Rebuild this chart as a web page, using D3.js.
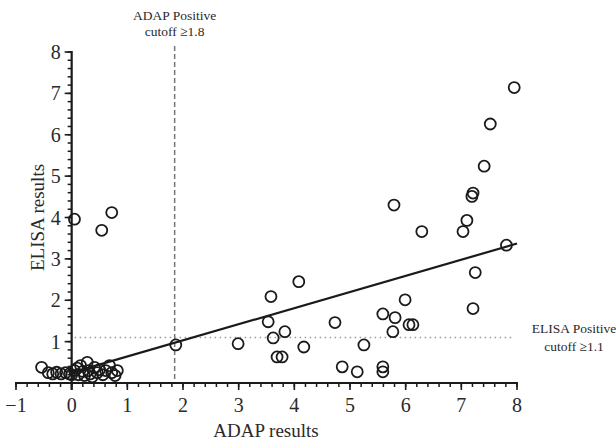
<!DOCTYPE html>
<html>
<head>
<meta charset="utf-8">
<script src="https://cdn.jsdelivr.net/npm/d3@7"></script>
<style>
  body { margin: 0; background: #fff; }
  svg text { font-family: 'Liberation Serif', 'DejaVu Serif', serif; fill: #2a2a2a; }
</style>
</head>
<body>
<svg id="chart" width="616" height="444"></svg>
<script>
// ADAP vs ELISA readings
var adap = [
  -0.54, -0.42, -0.34, -0.27, -0.19, -0.11, -0.04, 0.0, 0.05, 0.1, 0.12, 0.16, 0.2, 0.23,
  0.28, 0.3, 0.33, 0.37, 0.41, 0.46, 0.5, 0.56, 0.61, 0.68, 0.72, 0.78, 0.82,
  0.05, 0.54, 0.72, 1.87, 2.99,
  3.58, 3.53, 3.62, 3.69, 3.78, 3.83, 4.08, 4.17, 4.73, 4.86, 5.13, 5.25,
  5.59, 5.59, 5.59, 5.77, 5.81, 5.79, 5.99, 6.06, 6.13, 6.29,
  7.03, 7.1, 7.19, 7.21, 7.25, 7.21, 7.41, 7.52, 7.81, 7.95
];
var elisa = [
  0.38, 0.25, 0.22, 0.26, 0.22, 0.25, 0.22, 0.2, 0.3, 0.36, 0.2, 0.42, 0.28, 0.18,
  0.5, 0.3, 0.22, 0.15, 0.38, 0.25, 0.32, 0.2, 0.3, 0.42, 0.25, 0.18, 0.3,
  3.96, 3.69, 4.12, 0.92, 0.95,
  2.09, 1.48, 1.09, 0.63, 0.63, 1.24, 2.45, 0.87, 1.46, 0.39, 0.27, 0.92,
  0.39, 0.27, 1.67, 1.24, 1.58, 4.3, 2.01, 1.41, 1.41, 3.66,
  3.66, 3.93, 4.51, 4.59, 2.67, 1.8, 5.24, 6.26, 3.33, 7.14
];
var fitX = [0, 8];
var fitY = [0.25, 3.37];
var adapCutoff = 1.85;
var elisaCutoff = 1.1;
var xTicks = [-1, 0, 1, 2, 3, 4, 5, 6, 7, 8];
var yTicks = [1, 2, 3, 4, 5, 6, 7, 8];

var svg = d3.select('#chart');
var x = d3.scaleLinear().domain([-1, 8]).range([16, 517]);
var y = d3.scaleLinear().domain([0, 8]).range([383, 52]);

var ink = '#1a1a1a';
var serif = "'Liberation Serif', 'DejaVu Serif', serif";

// cutoff lines
svg.append('line')
  .attr('x1', x(adapCutoff)).attr('x2', x(adapCutoff))
  .attr('y1', y(8) - 6).attr('y2', y(0))
  .attr('stroke', '#777').attr('stroke-width', 1.5)
  .attr('stroke-dasharray', '5,3');
svg.append('line')
  .attr('x1', x(0) + 3).attr('x2', x(7.95))
  .attr('y1', y(elisaCutoff)).attr('y2', y(elisaCutoff))
  .attr('stroke', '#999').attr('stroke-width', 1.5)
  .attr('stroke-dasharray', '1.5,3.5');

// axes
var minorX = d3.range(-1, 8.01, 0.2);
var minorY = d3.range(0, 8.01, 0.2);

var gx = svg.append('g').attr('transform', 'translate(0,' + y(0) + ')');
gx.selectAll('line.minor').data(minorX).enter().append('line')
  .attr('x1', function(d) { return x(d); }).attr('x2', function(d) { return x(d); })
  .attr('y1', 0).attr('y2', 4).attr('stroke', ink).attr('stroke-width', 1.5);
gx.selectAll('line.major').data(xTicks).enter().append('line')
  .attr('x1', function(d) { return x(d); }).attr('x2', function(d) { return x(d); })
  .attr('y1', 0).attr('y2', 7).attr('stroke', ink).attr('stroke-width', 1.6);
gx.append('line').attr('x1', x(-1) - 1).attr('x2', x(8) + 1)
  .attr('stroke', ink).attr('stroke-width', 2.2);
gx.selectAll('text').data(xTicks).enter().append('text')
  .attr('x', function(d) { return x(d); }).attr('y', 29)
  .attr('text-anchor', 'middle').attr('font-size', 20)
  .style('font-family', serif)
  .text(function(d) { return d < 0 ? '\u2212' + Math.abs(d) : d; });

var gy = svg.append('g').attr('transform', 'translate(' + x(0) + ',0)');
gy.selectAll('line.minor').data(minorY).enter().append('line')
  .attr('y1', function(d) { return y(d); }).attr('y2', function(d) { return y(d); })
  .attr('x1', 0).attr('x2', -4).attr('stroke', ink).attr('stroke-width', 1.5);
gy.selectAll('line.major').data(yTicks).enter().append('line')
  .attr('y1', function(d) { return y(d); }).attr('y2', function(d) { return y(d); })
  .attr('x1', 0).attr('x2', -7).attr('stroke', ink).attr('stroke-width', 1.6);
gy.append('line').attr('y1', y(8) - 1).attr('y2', y(0) + 7)
  .attr('stroke', ink).attr('stroke-width', 2.2);
gy.selectAll('text').data(yTicks).enter().append('text')
  .attr('x', -11).attr('y', function(d) { return y(d) + 7; })
  .attr('text-anchor', 'end').attr('font-size', 20)
  .style('font-family', serif)
  .text(function(d) { return d; });

// fit line
svg.append('line')
  .attr('x1', x(fitX[0])).attr('y1', y(fitY[0]))
  .attr('x2', x(fitX[1])).attr('y2', y(fitY[1]))
  .attr('stroke', ink).attr('stroke-width', 2.2);

// points
svg.append('g').selectAll('circle').data(adap).enter().append('circle')
  .attr('cx', function(d) { return x(d); })
  .attr('cy', function(d, i) { return y(elisa[i]); })
  .attr('r', 5.5)
  .attr('fill', 'none').attr('stroke', ink).attr('stroke-width', 1.8);

// titles
svg.append('text').attr('x', 266).attr('y', 437)
  .attr('text-anchor', 'middle').attr('font-size', 19).text('ADAP results');
svg.append('text')
  .attr('transform', 'translate(44,' + y(4) + ') rotate(-90)')
  .attr('text-anchor', 'middle').attr('font-size', 19).text('ELISA results');

// annotations
svg.append('text').attr('x', x(adapCutoff)).attr('y', 20)
  .attr('text-anchor', 'middle').attr('font-size', 13.5).text('ADAP Positive');
svg.append('text').attr('x', x(adapCutoff)).attr('y', 36)
  .attr('text-anchor', 'middle').attr('font-size', 13.5).text('cutoff \u22651.8');
svg.append('text').attr('x', 574).attr('y', 333)
  .attr('text-anchor', 'middle').attr('font-size', 13.5).text('ELISA Positive');
svg.append('text').attr('x', 574).attr('y', 351)
  .attr('text-anchor', 'middle').attr('font-size', 13.5).text('cutoff \u22651.1');
</script>
</body>
</html>
